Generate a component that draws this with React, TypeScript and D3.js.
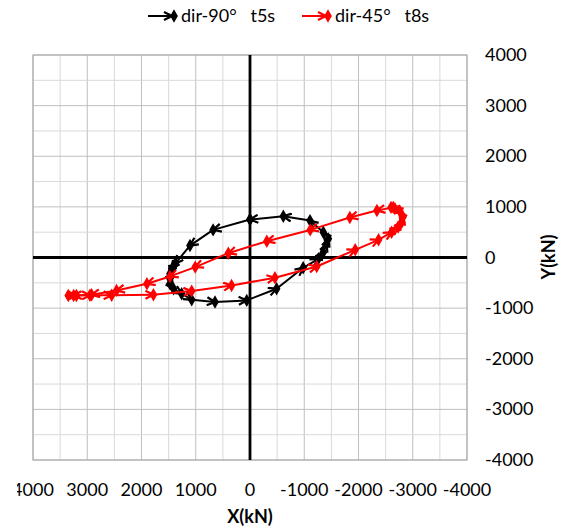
import React from "react";
import * as d3 from "d3";

const W = 570;
const H = 528;

const xTicks = [4000, 3000, 2000, 1000, 0, -1000, -2000, -3000, -4000];
const yTicks = [4000, 3000, 2000, 1000, 0, -1000, -2000, -3000, -4000];

const seriesNames = ["dir-90°", "dir-45°"];
const seriesSuffix = ["t5s", "t8s"];
const seriesColors = ["#000000", "#ff0000"];

const blackX = [0, 680, 1106, 1380, 1440, 1475, 1475, 1410, 1260, 1075, 645, 60, -490, -980, -1260, -1351, -1413, -1444, -1351, -1106, -614, 0];
const blackY = [750, 545, 236, -124, -223, -321, -519, -617, -716, -834, -880, -847, -617, -203, -26, 104, 270, 368, 499, 729, 814, 750];

const redX = [-2640, -2340, -1840, -1110, -310, 400, 1010, 1475, 1900, 2460, 2920, 3250, 3350, 3200, 2950, 2550, 1780, 1075, 340, -460, -1230, -1940, -2370, -2610, -2730, -2800, -2820, -2760, -2670, -2600];
const redY = [990, 930, 790, 545, 322, 85, -190, -374, -519, -650, -735, -750, -750, -750, -745, -745, -735, -664, -552, -400, -177, 152, 349, 500, 600, 700, 800, 920, 965, 990];

const FONT = "Lato, 'Open Sans', sans-serif";

export default function App() {
  const x = d3.scaleLinear().domain([4000, -4000]).range([33, 467]);
  const y = d3.scaleLinear().domain([4000, -4000]).range([55, 460]);
  const gridVals = d3.range(-4000, 4001, 500);
  const diamond = d3.symbol(d3.symbolDiamond, 52)() as string;

  const series = [
    { xs: blackX, ys: blackY, color: seriesColors[0], id: "b" },
    { xs: redX, ys: redY, color: seriesColors[1], id: "r" },
  ];

  return (
    <svg width={W} height={H} style={{ position: "absolute", left: 0, top: 0, background: "#fff" }}>
      <defs>
        <clipPath id="clipAll">
          <rect x={17} y={0} width={W - 17} height={H} />
        </clipPath>
        {series.map((s) => (
          <marker
            key={s.id}
            id={"arrow-" + s.id}
            viewBox="0 0 10 10"
            refX={9}
            refY={5}
            markerWidth={10}
            markerHeight={10}
            markerUnits="userSpaceOnUse"
            orient="auto"
          >
            <path d="M1,1 L9,5 L1,9" fill="none" stroke={s.color} strokeWidth={2.2} />
          </marker>
        ))}
      </defs>
      <g clipPath="url(#clipAll)">
        <rect x={33} y={55} width={434} height={405} fill="#fff" />
        {gridVals.map((v) => (
          <line
            key={"gx" + v}
            x1={x(v)}
            x2={x(v)}
            y1={y(4000)}
            y2={y(-4000)}
            stroke={v % 1000 === 0 ? "#bfbfbf" : "#d9d9d9"}
            strokeWidth={1}
          />
        ))}
        {gridVals.map((v) => (
          <line
            key={"gy" + v}
            x1={x(4000)}
            x2={x(-4000)}
            y1={y(v)}
            y2={y(v)}
            stroke={v % 1000 === 0 ? "#bfbfbf" : "#d9d9d9"}
            strokeWidth={1}
          />
        ))}
        <rect x={x(4000)} y={y(4000)} width={x(-4000) - x(4000)} height={y(-4000) - y(4000)} fill="none" stroke="#a6a6a6" strokeWidth={1} />
        <line x1={x(4000)} x2={x(-4000)} y1={y(0)} y2={y(0)} stroke="#000" strokeWidth={2.8} />
        <line x1={x(0)} x2={x(0)} y1={y(4000)} y2={y(-4000)} stroke="#000" strokeWidth={2.8} />

        {series.map((s) => (
          <g key={s.id}>
            {s.xs.slice(1).map((_, i) => (
              <line
                key={i}
                x1={x(s.xs[i])}
                y1={y(s.ys[i])}
                x2={x(s.xs[i + 1])}
                y2={y(s.ys[i + 1])}
                stroke={s.color}
                strokeWidth={2}
                markerEnd={`url(#arrow-${s.id})`}
              />
            ))}
            {s.xs.map((v, i) => (
              <path key={"d" + i} d={diamond} transform={`translate(${x(v)},${y(s.ys[i])})`} fill={s.color} />
            ))}
          </g>
        ))}

        {xTicks.map((v) => (
          <text key={"xt" + v} x={x(v)} y={496} textAnchor="middle" fontFamily={FONT} fontSize={18} fill="#000">
            {v}
          </text>
        ))}
        {yTicks.map((v) => (
          <text key={"yt" + v} x={485} y={y(v) + 6} textAnchor="start" fontFamily={FONT} fontSize={18} fill="#000">
            {v}
          </text>
        ))}
        <text x={250} y={523} textAnchor="middle" fontFamily={FONT} fontSize={18} fontWeight="bold" fill="#000">
          X(kN)
        </text>
        <text
          transform={`translate(555,257) rotate(-90)`}
          textAnchor="middle"
          fontFamily={FONT}
          fontSize={18}
          fontWeight="bold"
          fill="#000"
        >
          Y(kN)
        </text>

        {series.map((s, i) => {
          const lx = i === 0 ? 148 : 302;
          const ly = 16;
          return (
            <g key={"lg" + s.id}>
              <line x1={lx} x2={lx + 24} y1={ly} y2={ly} stroke={s.color} strokeWidth={2} markerEnd={`url(#arrow-${s.id})`} />
              <path d={diamond} transform={`translate(${lx + 26},${ly})`} fill={s.color} />
              <text x={lx + 33} y={ly + 6} fontFamily={FONT} fontSize={18} fill="#000" style={{ whiteSpace: "pre" }}>
                {seriesNames[i] + "   " + seriesSuffix[i]}
              </text>
            </g>
          );
        })}
      </g>
    </svg>
  );
}
